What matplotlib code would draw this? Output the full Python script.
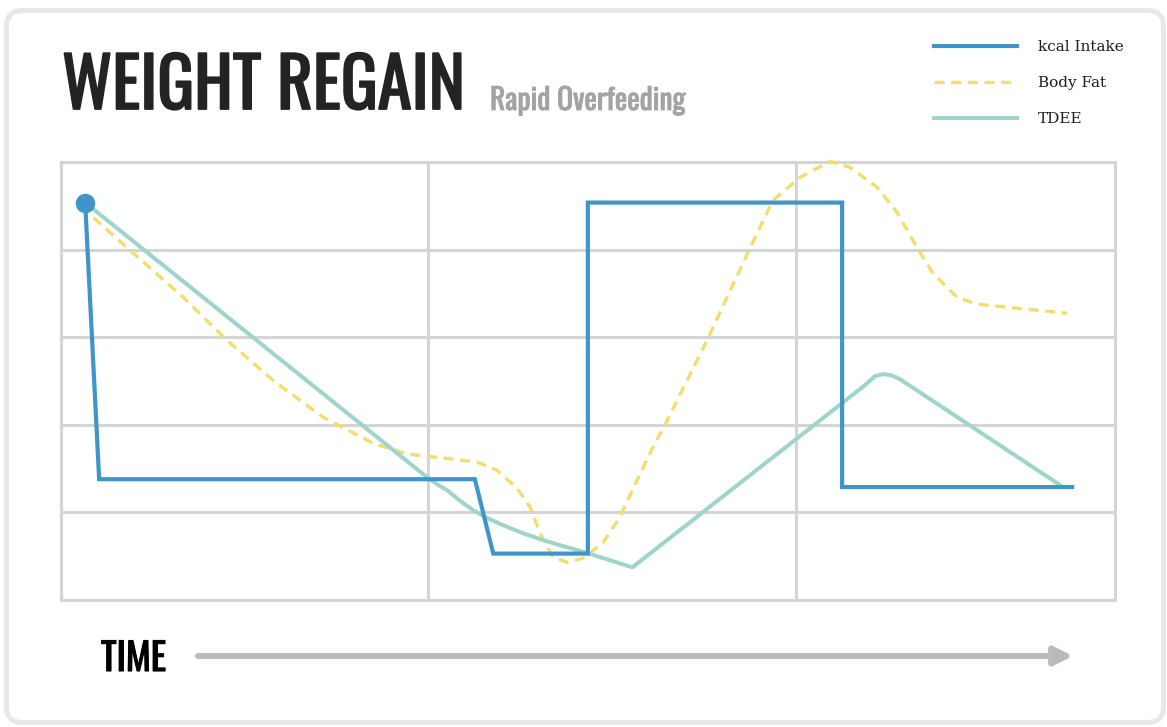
import matplotlib
matplotlib.use('Agg')
import matplotlib.pyplot as plt
from matplotlib import font_manager
import matplotlib.patheffects as pe
from matplotlib.patches import FancyBboxPatch, FancyArrowPatch
from matplotlib.transforms import IdentityTransform

# x in time units (one grid column = 1), y in arbitrary units (0..5)
kcal_x = [0.067, 0.105, 1.126, 1.176, 1.433, 1.433, 2.124, 2.124, 2.749]
kcal_y = [4.54, 1.38, 1.38, 0.53, 0.53, 4.54, 4.54, 1.29, 1.29]

tdee_x = [0.067, 1.000, 1.025, 1.050, 1.085, 1.121, 1.160, 1.202, 1.255,
          1.311, 1.370, 1.431, 1.554,
          2.186, 2.213, 2.235, 2.257, 2.281, 2.716]
tdee_y = [4.54, 1.389, 1.318, 1.256, 1.135, 1.027, 0.935, 0.856, 0.765,
          0.685, 0.610, 0.537, 0.373,
          2.454, 2.557, 2.580, 2.568, 2.523, 1.313]

fat_x = [0.067, 0.088, 0.189, 0.333, 0.452, 0.577, 0.713, 0.849, 0.942,
         1.077, 1.132, 1.186, 1.240, 1.276, 1.303, 1.338, 1.379, 1.420,
         1.474, 1.520, 1.567, 1.610, 1.645, 1.757, 1.871, 1.936, 2.010,
         2.091, 2.145, 2.219, 2.273, 2.327, 2.371, 2.436, 2.491, 2.626, 2.735]
fat_y = [4.532, 4.372, 3.995, 3.459, 2.968, 2.511, 2.089, 1.792, 1.667,
         1.604, 1.575, 1.484, 1.279, 1.062, 0.765, 0.491, 0.428, 0.479,
         0.651, 0.947, 1.370, 1.747, 2.021, 2.968, 3.995, 4.566, 4.829,
         5.011, 4.943, 4.715, 4.429, 4.030, 3.733, 3.459, 3.379, 3.322, 3.276]

labels = ['kcal Intake', 'Body Fat', 'TDEE']
title = 'WEIGHT REGAIN'
subtitle = 'Rapid Overfeeding'
time_label = 'TIME'

BLUE = '#3f94c8'
TEAL = '#9fd4cd'
YELLOW = '#f1de6e'
GRID = '#d5d5d5'

# pick a narrow face if one exists
names = {f.name for f in font_manager.fontManager.ttflist}
narrow = 'DejaVu Sans'
for cand in ['Oswald', 'Bebas Neue', 'League Gothic', 'Liberation Sans Narrow',
             'Roboto Condensed', 'Open Sans Condensed']:
    if cand in names:
        narrow = cand
        break

fig = plt.figure(figsize=(11.67, 7.27), dpi=100)
fig.patch.set_facecolor('white')

card = FancyBboxPatch((6.5, 4.5), 1157, 712, boxstyle='round,pad=0,rounding_size=16',
                      transform=IdentityTransform(), facecolor='white',
                      edgecolor='#e8e8e8', lw=3.6, zorder=0)
fig.add_artist(card)

ax = fig.add_axes([60.5 / 1167, 127 / 727, (1115 - 60.5) / 1167, (600 - 162.3) / 727])
ax.set_xlim(0, 2.8655)
ax.set_ylim(0, 5)
ax.set_xticks([0, 1, 2])
ax.set_yticks(range(6))
ax.grid(True, color=GRID, lw=2.2)
ax.tick_params(length=0, labelbottom=False, labelleft=False)
for s in ax.spines.values():
    s.set_color(GRID)
    s.set_linewidth(2.2)
ax.set_facecolor('none')

l_kcal, = ax.plot(kcal_x, kcal_y, color=BLUE, lw=3.0, solid_joinstyle='miter', zorder=5)
l_fat, = ax.plot(fat_x, fat_y, color=YELLOW, lw=2.4, ls=(0, (3.0, 2.0)), clip_on=False, zorder=3)
l_tdee, = ax.plot(tdee_x, tdee_y, color=TEAL, lw=2.9, solid_joinstyle='round', zorder=4)
ax.plot(kcal_x[:1], kcal_y[:1], 'o', ms=13, color=BLUE, clip_on=False, zorder=6)

fig.legend([l_kcal, l_fat, l_tdee], labels, loc='upper left',
           bbox_to_anchor=(934 / 1167, 1 - 40 / 727), frameon=False,
           borderpad=0, borderaxespad=0, handlelength=5.4, handletextpad=1.4,
           labelspacing=1.45, prop={'family': 'DejaVu Serif', 'size': 11},
           labelcolor='#1e1e1e')

r = fig.canvas.get_renderer()


def fit(t, width_px):
    w = t.get_window_extent(r).width
    t.set_fontsize(t.get_fontsize() * width_px / w)


def heavy(t, color, w):
    t.set_path_effects([pe.withStroke(linewidth=w, foreground=color)])


t1 = fig.text(62 / 1167, 1 - 109 / 727, title, fontsize=40, weight='bold',
              family=narrow, color='#232326', va='baseline')
fit(t1, 403)
heavy(t1, '#232326', 1.3)
t2 = fig.text(490 / 1167, 1 - 110 / 727, subtitle, fontsize=20, weight='bold',
              family=narrow, color='#a3a3a3', va='baseline')
fit(t2, 196)
heavy(t2, '#a3a3a3', 0.6)
t3 = fig.text(101 / 1167, 1 - 671 / 727, time_label, fontsize=24, weight='bold',
              family=narrow, color='black', va='baseline')
fit(t3, 65)
heavy(t3, 'black', 0.8)

arrow = FancyArrowPatch((198, 727 - 656), (1073, 727 - 656), transform=IdentityTransform(),
                        arrowstyle='-|>,head_length=11,head_width=5.5', mutation_scale=1,
                        lw=4.3, color='#bbbbbb', shrinkA=0, shrinkB=0)
fig.add_artist(arrow)

fig.savefig('out.png', dpi=100, facecolor='white')
